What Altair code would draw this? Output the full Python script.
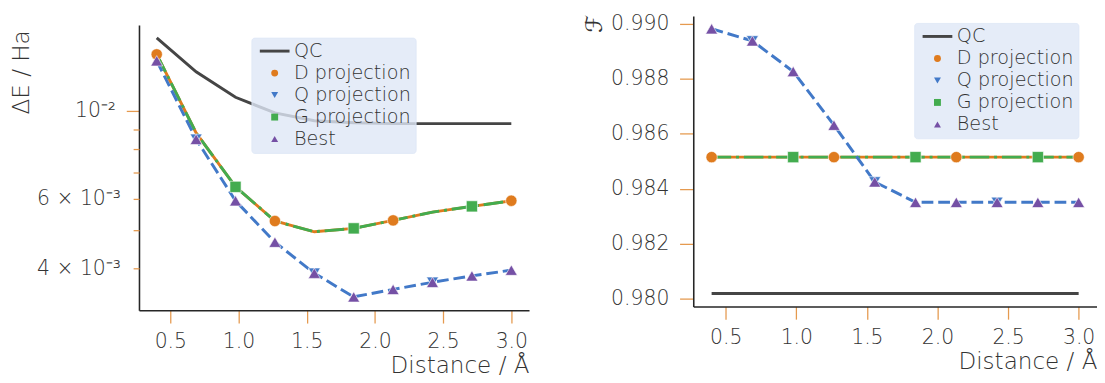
import altair as alt
import pandas as pd

# ---------------- data ----------------
distance = [0.4, 0.6889, 0.9778, 1.2667, 1.5556, 1.8444, 2.1333, 2.4222, 2.7111, 3.0]

qc_energy = [0.01531, 0.01256, 0.01083, 0.00989, 0.00945, 0.00934, 0.00929, 0.00929, 0.00929, 0.00929]
proj_energy = [0.01390, 0.00880, 0.00643, 0.00527, 0.00495, 0.00505, 0.00529, 0.00555, 0.00574, 0.00593]
best_energy = [0.01339, 0.00848, 0.00593, 0.00466, 0.00389, 0.00339, 0.00354, 0.00369, 0.00383, 0.00396]

qc_fidelity = [0.98020, 0.98020, 0.98020, 0.98020, 0.98020, 0.98020, 0.98020, 0.98020, 0.98020, 0.98020]
proj_fidelity = [0.98515, 0.98515, 0.98515, 0.98515, 0.98515, 0.98515, 0.98515, 0.98515, 0.98515, 0.98515]
best_fidelity = [0.98981, 0.98937, 0.98826, 0.98631, 0.98425, 0.98351, 0.98351, 0.98351, 0.98351, 0.98351]

series_names = ["QC", "D projection", "Q projection", "G projection", "Best"]
series_colors = ["#454545", "#df7b1e", "#4279c8", "#43ac4f", "#7550a5"]
qc_path = "M-4.3,-0.42H4.3V0.42H-4.3Z"
series_shapes = [qc_path, "circle", "triangle-down", "square", "triangle-up"]
marker_sizes = {"D projection": 135, "Q projection": 150, "G projection": 130, "Best": 150}
marker_start = {"D projection": 0, "Q projection": 1, "G projection": 2, "Best": None}

x_ticks = [0.5, 1.0, 1.5, 2.0, 2.5, 3.0]
energy_major = [0.01]
energy_minor = [0.004, 0.005, 0.006, 0.007, 0.008, 0.009]
fidelity_ticks = [0.980, 0.982, 0.984, 0.986, 0.988, 0.990]

TICK = "#e59a4f"
TXT = "#333333"
FONT = "DejaVu Sans"
WEIGHT = 200


def build_frame(qc, proj, best):
    rows = []
    vals = {"QC": qc, "D projection": proj, "G projection": proj,
            "Q projection": best, "Best": best}
    for s in series_names:
        for i, (xv, yv) in enumerate(zip(distance, vals[s])):
            st = marker_start.get(s)
            marker = s != "QC" and (st is None or i % 3 == st)
            rows.append({"x": xv, "y": yv, "series": s, "marker": marker,
                         "msize": marker_sizes.get(s, 0)})
    return pd.DataFrame(rows)


def panel(df, y_scale, width, height, legend_x, legend_y, axes):
    xenc = alt.X("x:Q", scale=alt.Scale(domain=[0.27, 3.13], nice=False, zero=False),
                 axis=alt.Axis(values=x_ticks, format=".1f", title="Distance / Å",
                               titleAnchor="end", tickSize=13, labelPadding=9,
                               titlePadding=3, labelFlush=False))
    base = alt.Chart(df)

    def line(series, color, dash, axis):
        kw = dict(color=color, strokeWidth=3)
        if dash:
            kw["strokeDash"] = dash
        return base.transform_filter(alt.datum.series == series).mark_line(**kw).encode(
            x=xenc, y=alt.Y("y:Q", scale=y_scale, axis=axis))

    leg = alt.Legend(title=None, orient="none", legendX=legend_x, legendY=legend_y,
                     fillColor="rgba(222,231,246,0.8)", strokeColor="rgba(222,231,246,0.8)",
                     cornerRadius=3, padding=4, rowPadding=1.5, symbolSize=50,
                     symbolOffset=10, labelOffset=10, symbolStrokeWidth=0, zindex=2)

    pts = base.transform_filter(alt.datum.marker == True).mark_point(
        filled=True, opacity=1, stroke="white", strokeWidth=0.6
    ).encode(
        x=xenc,
        y=alt.Y("y:Q", scale=y_scale, axis=None),
        color=alt.Color("series:N", scale=alt.Scale(domain=series_names, range=series_colors),
                        legend=leg),
        shape=alt.Shape("series:N", scale=alt.Scale(domain=series_names, range=series_shapes),
                        legend=leg),
        size=alt.Size("msize:Q", scale=None, legend=None),
    )
    layers = [
        line("QC", series_colors[0], None, axes[0]),
        line("D projection", series_colors[1], None, axes[1]),
        line("G projection", series_colors[3], [20, 5, 3, 5], None),
        line("Q projection", series_colors[2], [12, 5], None),
        pts,
    ]
    return alt.layer(*layers).properties(width=width, height=height).resolve_axis(y="independent")


left_df = build_frame(qc_energy, proj_energy, best_energy)
right_df = build_frame(qc_fidelity, proj_fidelity, best_fidelity)

left_scale = alt.Scale(type="log", domain=[0.003134, 0.01650], range=[304, 12], nice=False, zero=False)
right_scale = alt.Scale(domain=[0.97973, 0.99027], range=[300, 3], nice=False, zero=False)

left_major = alt.Axis(orient="left", values=energy_major, labelExpr="'10⁻²'", tickSize=13,
                      labelPadding=11, title=None, domain=True)
left_minor = alt.Axis(orient="left", values=energy_minor,
                      labelExpr="datum.value < 0.0045 ? '4 × 10⁻³' : (datum.value > 0.0055 && datum.value < 0.0065) ? '6 × 10⁻³' : ''",
                      tickSize=6, labelPadding=13, title="ΔE / Ha",
                      titleAngle=270, titleAlign="right", titleBaseline="alphabetic",
                      titleX=-113, titleY=17, domain=False, labelOverlap=False)

right_axis = alt.Axis(orient="left", values=fidelity_ticks, format=".3f", tickSize=14,
                      labelPadding=11, title="ℱ", titleFontWeight="normal",
                      titleAngle=270, titleAlign="right", titleBaseline="alphabetic",
                      titleX=-94, titleY=1, labelFlush=False)

left = panel(left_df, left_scale, 399, 304, 115, 25, [left_major, left_minor])
right = panel(right_df, right_scale, 413, 300, 226, 10, [right_axis, None])

chart = alt.hconcat(left, right, spacing=55).resolve_scale(
    color="independent", shape="independent", x="independent", y="independent"
).properties(
    padding={"left": 2, "top": 0, "right": 0, "bottom": 0}
).configure_view(stroke=None).configure_axis(
    grid=False, labelFont=FONT, labelFontSize=20.8, labelColor=TXT, labelFontWeight=WEIGHT,
    titleFont=FONT, titleFontSize=23.6, titleFontWeight=WEIGHT, titleColor=TXT,
    tickColor=TICK, tickWidth=1.3, domainColor="#262626", domainWidth=1.6
).configure_legend(
    labelFont=FONT, labelFontSize=19.6, labelColor=TXT, labelFontWeight=WEIGHT
)

chart.save("out.html", embed_options={"renderer": "svg", "actions": False})
